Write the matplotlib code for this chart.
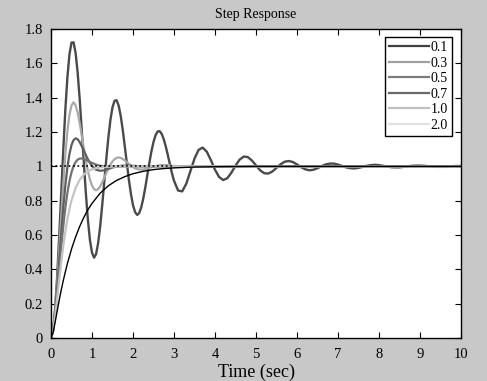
import numpy as np
import matplotlib
matplotlib.use("Agg")
import matplotlib.pyplot as plt
from matplotlib.lines import Line2D
from matplotlib.ticker import FormatStrFormatter

plt.rcParams['font.family'] = ['Liberation Serif', 'DejaVu Serif']

# damping ratios shown in the legend
labels = ["0.1", "0.3", "0.5", "0.7", "1.0", "2.0"]

# zeta = 0.1 (0..3 s every 0.05 s, then every 0.1 s)
t_01 = np.concatenate([np.linspace(0, 3.0, 61), np.linspace(3.1, 10.0, 70)])
y_01 = [0.000, 0.044, 0.168, 0.357, 0.591, 0.846, 1.100, 1.331, 1.519, 1.652,
        1.721, 1.722, 1.661, 1.546, 1.391, 1.211, 1.023, 0.844, 0.688, 0.570,
        0.497, 0.468, 0.489, 0.553, 0.652, 0.776, 0.911, 1.047, 1.170, 1.272,
        1.344, 1.382, 1.385, 1.354, 1.294, 1.213, 1.117, 1.017, 0.921, 0.838,
        0.774, 0.734, 0.717, 0.727, 0.760, 0.812, 0.877, 0.949, 1.022, 1.088,
        1.142, 1.181, 1.203, 1.205, 1.189, 1.158, 1.115, 1.065, 1.012, 0.960,
        0.916,
        0.859, 0.854, 0.899, 0.971, 1.045, 1.096, 1.109, 1.085, 1.036, 0.980,
        0.938, 0.920, 0.931, 0.963, 1.004, 1.039, 1.057, 1.054, 1.034, 1.005,
        0.977, 0.960, 0.958, 0.970, 0.991, 1.012, 1.027, 1.031, 1.025, 1.011,
        0.995, 0.983, 0.977, 0.980, 0.989, 1.001, 1.011, 1.016, 1.016, 1.010,
        1.002, 0.994, 0.989, 0.988, 0.991, 0.997, 1.003, 1.007, 1.009, 1.007,
        1.003, 0.999, 0.995, 0.994, 0.994, 0.997, 1.000, 1.003, 1.004, 1.004,
        1.003, 1.001, 0.998, 0.997, 0.997, 0.997, 0.999, 1.001, 1.002, 1.002]

# zeta = 0.3
t_03 = np.concatenate([np.linspace(0, 2.25, 46),
                       [2.3, 2.4, 2.5, 2.6, 2.7, 2.8, 2.9, 3.0, 3.2, 3.4, 3.6, 3.8,
                        4.0, 5.0, 6.0, 7.0, 8.0, 9.0, 10.0]])
y_03 = [0.000, 0.042, 0.156, 0.319, 0.512, 0.713, 0.904, 1.071, 1.205, 1.300,
        1.355, 1.373, 1.356, 1.314, 1.252, 1.180, 1.105, 1.034, 0.972, 0.923,
        0.888, 0.867, 0.861, 0.868, 0.884, 0.907, 0.934, 0.962, 0.988, 1.011,
        1.029, 1.042, 1.049, 1.052, 1.049, 1.043, 1.034, 1.025, 1.014, 1.004,
        0.996, 0.989, 0.984, 0.982, 0.981, 0.982,
        0.984, 0.991, 0.998, 1.004, 1.007, 1.007, 1.005, 1.002, 0.998, 0.998,
        1.000, 1.001, 1.000, 1.000, 1.000, 1.000, 1.000, 1.000, 1.000]

# zeta = 0.5
t_05 = np.concatenate([np.linspace(0, 1.0, 21),
                       [1.1, 1.2, 1.3, 1.4, 1.5, 1.6, 1.7, 1.8, 1.9, 2.0, 2.2, 2.4,
                        2.6, 3.0, 4.0, 5.0, 6.0, 7.0, 8.0, 9.0, 10.0]])
y_05 = [0.000, 0.041, 0.145, 0.288, 0.449, 0.610, 0.760, 0.890, 0.994, 1.072,
        1.124, 1.153, 1.163, 1.158, 1.141, 1.118, 1.093, 1.066, 1.041, 1.020,
        1.002,
        0.980, 0.974, 0.977, 0.985, 0.993, 0.999, 1.003, 1.004, 1.004, 1.003,
        1.000, 0.999, 1.000, 1.000, 1.000, 1.000, 1.000, 1.000, 1.000, 1.000,
        1.000]

# zeta = 0.7
t_07 = np.concatenate([np.linspace(0, 0.9, 19),
                       [1.0, 1.1, 1.2, 1.3, 1.4, 1.6, 1.8, 2.0, 3.0, 4.0, 5.0,
                        6.0, 7.0, 8.0, 9.0, 10.0]])
y_07 = [0.000, 0.039, 0.135, 0.261, 0.398, 0.531, 0.653, 0.759, 0.846, 0.914,
        0.965, 1.001, 1.025, 1.039, 1.045, 1.046, 1.043, 1.038, 1.032,
        1.020, 1.010, 1.003, 1.000, 0.998, 0.998, 0.999, 1.000, 1.000, 1.000,
        1.000, 1.000, 1.000, 1.000, 1.000, 1.000]

# zeta = 1.0
t_10 = np.concatenate([np.linspace(0, 0.5, 11),
                       [0.6, 0.7, 0.8, 0.9, 1.0, 1.2, 1.4, 1.6, 2.0, 3.0, 4.0,
                        5.0, 6.0, 7.0, 8.0, 9.0, 10.0]])
y_10 = [0.000, 0.037, 0.122, 0.228, 0.337, 0.442, 0.537, 0.620, 0.692, 0.751,
        0.801,
        0.874, 0.922, 0.952, 0.971, 0.983, 0.994, 0.998, 0.999, 1.000, 1.000,
        1.000, 1.000, 1.000, 1.000, 1.000, 1.000, 1.000]

# zeta = 2.0
t_20 = [0.0, 0.05, 0.1, 0.15, 0.2, 0.25, 0.3, 0.35, 0.4, 0.5, 0.6, 0.7, 0.8,
        0.9, 1.0, 1.2, 1.4, 1.6, 1.8, 2.0, 2.25, 2.5, 2.75, 3.0, 3.5, 4.0,
        5.0, 6.0, 7.0, 8.0, 9.0, 10.0]
y_20 = [0.000, 0.031, 0.091, 0.156, 0.220, 0.280, 0.335, 0.386, 0.434, 0.518,
        0.589, 0.650, 0.702, 0.747, 0.784, 0.844, 0.887, 0.918, 0.940, 0.957,
        0.971, 0.981, 0.987, 0.991, 0.996, 0.998, 1.000, 1.000, 1.000, 1.000,
        1.000, 1.000]

series = [(t_01, y_01), (t_03, y_03), (t_05, y_05), (t_07, y_07), (t_10, y_10), (t_20, y_20)]
line_colors = ['#4a4a4a', '#a8a8a8', '#5e5e5e', '#727272', '#c4c4c4', '#000000']
line_widths = [1.7, 1.6, 1.6, 1.6, 1.6, 1.0]
legend_colors = ['#404040', '#a0a0a0', '#7c7c7c', '#6a6a6a', '#c0c0c0', '#e2e2e2']

fig = plt.figure(figsize=(4.87, 3.81), dpi=100, facecolor='#c8c8c8')
ax = fig.add_axes([51 / 487, 43 / 381, 410 / 487, 309 / 381])
ax.set_facecolor('white')

for (t, y), c, lw in zip(series, line_colors, line_widths):
    ax.plot(t, y, color=c, linewidth=lw)
ax.axhline(1.0, xmax=0.3, color='black', linestyle=':', linewidth=1.2, zorder=5)

ax.set_xlim(0, 10)
ax.set_ylim(0, 1.8)
ax.set_xticks(range(0, 11))
ax.set_yticks(np.arange(0, 1.81, 0.2))
ax.yaxis.set_major_formatter(FormatStrFormatter('%g'))
ax.tick_params(direction='in', length=4, width=0.8, top=True, right=True,
               labelsize=10.5)
ax.tick_params(axis='x', pad=7)
ax.tick_params(axis='y', pad=6)
for sp in ax.spines.values():
    sp.set_linewidth(1.0)

ax.set_title("Step Response", fontsize=10, pad=8)
ax.set_xlabel("Time (sec)", fontsize=13, labelpad=2)

handles = [Line2D([], [], color=c, linewidth=1.6) for c in legend_colors]
leg = ax.legend(handles, labels, loc='upper right', bbox_to_anchor=(0.978, 0.974),
                borderaxespad=0, fancybox=False, edgecolor='black', fontsize=10,
                handlelength=2.9, handletextpad=0.1, labelspacing=0.18,
                borderpad=0.3, framealpha=1)
leg.get_frame().set_linewidth(1.0)

fig.savefig("out.png", dpi=100, facecolor=fig.get_facecolor())
